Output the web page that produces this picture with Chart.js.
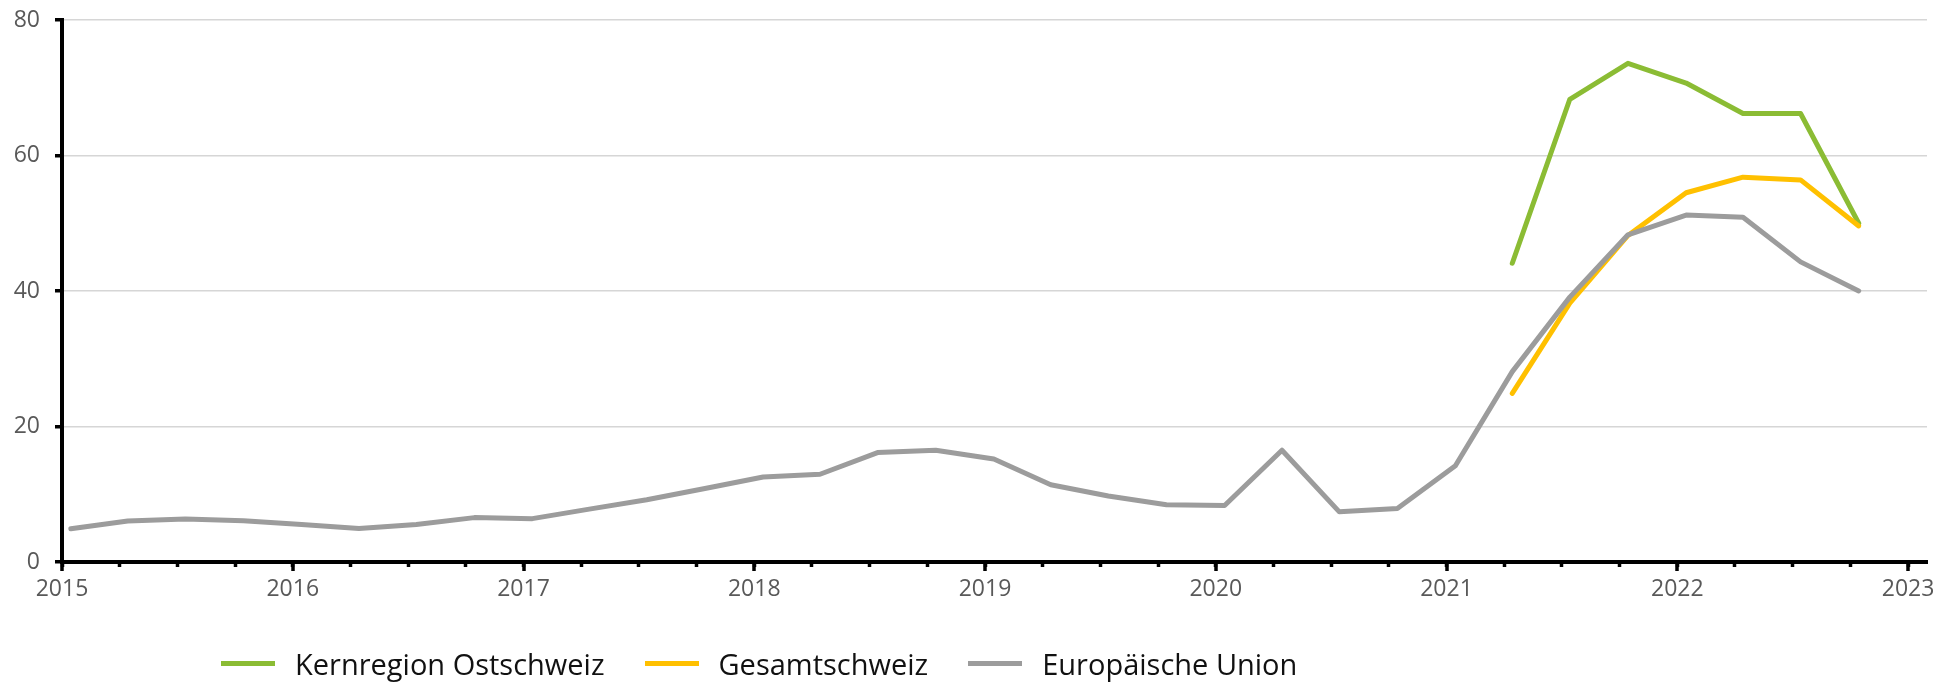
<!DOCTYPE html>
<html>
<head>
<meta charset="utf-8">
<script src="https://cdn.jsdelivr.net/npm/chart.js@4.4.1/dist/chart.umd.min.js"></script>
<style>
  html, body { margin: 0; padding: 0; background: #ffffff; }
  #wrap { position: relative; width: 1951px; height: 682px; overflow: hidden; }
  #c { position: absolute; left: 0; top: 0; }
  #legend { position: absolute; left: 221px; top: 644px; display: flex; align-items: center;
            font-family: 'Open Sans', sans-serif; font-size: 29px; color: #111; white-space: nowrap; }
  .item { display: flex; align-items: center; margin-right: 40px; }
  .sw { width: 54px; height: 5px; margin-right: 20px; }
</style>
</head>
<body>
<div id="wrap">
  <canvas id="c" width="1951" height="682"></canvas>
  <div id="legend"></div>
</div>
<script>
// ---- data ----
const dates = [
  "2015-01-15","2015-04-15","2015-07-15","2015-10-15",
  "2016-01-15","2016-04-15","2016-07-15","2016-10-15",
  "2017-01-15","2017-04-15","2017-07-15","2017-10-15",
  "2018-01-15","2018-04-15","2018-07-15","2018-10-15",
  "2019-01-15","2019-04-15","2019-07-15","2019-10-15",
  "2020-01-15","2020-04-15","2020-07-15","2020-10-15",
  "2021-01-15","2021-04-15","2021-07-15","2021-10-15",
  "2022-01-15","2022-04-15","2022-07-15","2022-10-15"
];
const seriesNames = ["Kernregion Ostschweiz", "Gesamtschweiz", "Europäische Union"];
const ostschweiz = [
  null,null,null,null, null,null,null,null, null,null,null,null, null,null,null,null,
  null,null,null,null, null,null,null,null, null,
  44.1, 68.3, 73.6, 70.7, 66.2, 66.2, 50.0
];
const gesamtschweiz = [
  null,null,null,null, null,null,null,null, null,null,null,null, null,null,null,null,
  null,null,null,null, null,null,null,null, null,
  24.9, 38.2, 48.2, 54.5, 56.8, 56.4, 49.6
];
const europaeischeUnion = [
  4.9, 6.05, 6.35, 6.1, 5.55, 4.95, 5.55, 6.55,
  6.4, 7.8, 9.2, 10.85, 12.55, 12.95, 16.15, 16.5,
  15.2, 11.4, 9.75, 8.45, 8.35, 16.5, 7.4, 7.9,
  14.2, 28.1, 39.1, 48.3, 51.2, 50.9, 44.3, 40.0
];
const yTicks = [0, 20, 40, 60, 80];
const xAxisStart = "2015-01-01";
const xAxisEnd = "2023-01-31";
const yearLabels = ["2015","2016","2017","2018","2019","2020","2021","2022","2023"];

// ---- helpers ----
function toYear(s) {
  const d = new Date(s + "T00:00:00Z");
  const y = d.getUTCFullYear();
  const a = Date.UTC(y, 0, 1), b = Date.UTC(y + 1, 0, 1);
  return y + (d.getTime() - a) / (b - a);
}
function pts(vals) { return dates.map((d, i) => ({ x: toYear(d), y: vals[i] })); }

const colors = ["#8BBC34", "#FFC000", "#9C9C9C"];
const seriesVals = [ostschweiz, gesamtschweiz, europaeischeUnion];

const datasets = seriesNames.map((n, i) => ({
  label: n,
  data: pts(seriesVals[i]),
  borderColor: colors[i],
  backgroundColor: colors[i],
  borderWidth: 5,
  pointRadius: 0,
  pointHoverRadius: 0,
  tension: 0,
  fill: false,
  spanGaps: false,
  borderCapStyle: 'round',
  borderJoinStyle: 'round',
  order: 3 - i
}));

const isYear = v => Math.abs(v - Math.round(v)) < 1e-6;

const majorTicks = {
  id: 'majorTicks',
  afterDraw(chart) {
    const s = chart.scales.x;
    const ctx = chart.ctx;
    ctx.save();
    ctx.strokeStyle = '#000';
    ctx.lineWidth = 3.5;
    s.ticks.forEach(t => {
      if (isYear(t.value)) {
        const px = Math.round(s.getPixelForValue(t.value));
        ctx.beginPath();
        ctx.moveTo(px, s.top);
        ctx.lineTo(px, s.top + 9);
        ctx.stroke();
      }
    });
    ctx.restore();
  }
};

const font = { family: "'Open Sans', sans-serif", size: 23 };

const chart = new Chart(document.getElementById('c'), {
  type: 'line',
  data: { datasets },
  options: {
    responsive: false,
    animation: false,
    devicePixelRatio: 1,
    layout: { autoPadding: false, padding: { left: 0, right: 24, top: 20, bottom: 76 } },
    plugins: { legend: { display: false }, tooltip: { enabled: false } },
    scales: {
      x: {
        type: 'linear',
        min: toYear(xAxisStart),
        max: toYear(xAxisEnd),
        afterFit: s => { s.height = 44; s.paddingLeft = 0; s.paddingRight = 0; },
        border: { display: true, color: '#000', width: 4 },
        grid: { drawOnChartArea: false, drawTicks: true, tickLength: 5, tickColor: '#000', tickWidth: 3.5 },
        ticks: {
          stepSize: 0.25,
          includeBounds: false,
          autoSkip: false,
          maxRotation: 0,
          minRotation: 0,
          padding: 9,
          color: '#595959',
          font,
          callback: v => {
            if (!isYear(v)) return '';
            const lbl = String(Math.round(v));
            return yearLabels.includes(lbl) ? lbl : '';
          }
        }
      },
      y: {
        min: yTicks[0],
        max: yTicks[yTicks.length - 1],
        afterFit: s => { s.width = 62; s.paddingTop = 0; s.paddingBottom = 0; },
        afterBuildTicks: s => { s.ticks = yTicks.map(v => ({ value: v })); },
        border: { display: true, color: '#000', width: 4 },
        grid: { color: '#d6d6d6', lineWidth: 1.5, drawTicks: true, tickLength: 7, tickColor: '#000', tickWidth: 3.5 },
        ticks: { padding: 15, color: '#595959', font: { family: font.family, size: font.size, lineHeight: 0.8 } }
      }
    }
  },
  plugins: [majorTicks]
});

// HTML legend built from the datasets
const lg = document.getElementById('legend');
chart.data.datasets.forEach(ds => {
  const it = document.createElement('div');
  it.className = 'item';
  const sw = document.createElement('span');
  sw.className = 'sw';
  sw.style.background = ds.borderColor;
  const tx = document.createElement('span');
  tx.textContent = ds.label;
  it.appendChild(sw);
  it.appendChild(tx);
  lg.appendChild(it);
});
</script>
</body>
</html>
